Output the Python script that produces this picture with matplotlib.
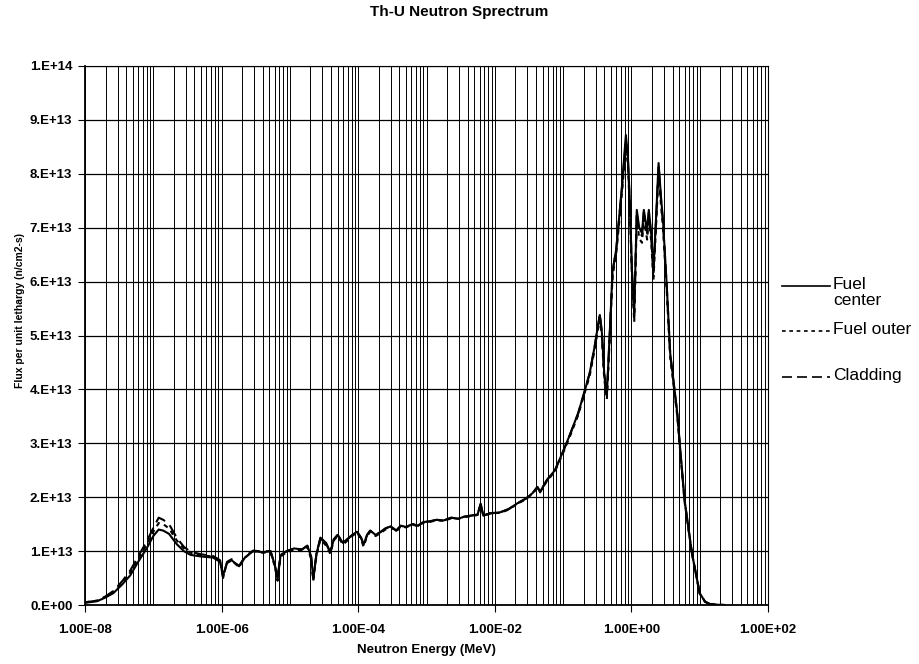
import numpy as np
import matplotlib
matplotlib.use('Agg')
import matplotlib.pyplot as plt
from matplotlib.ticker import LogLocator, FuncFormatter, MultipleLocator, FixedLocator, NullFormatter
from matplotlib.lines import Line2D

plt.rcParams['font.family'] = ['Liberation Sans', 'DejaVu Sans']

# neutron energy grid (MeV)
energy = [
    1.0e-8, 1.5e-8, 2.0e-8, 2.6e-8, 3.5e-8, 4.6e-8, 6.0e-8, 8.0e-8, 1.0e-7, 1.2e-7,
    1.4e-7, 1.7e-7, 2.2e-7, 2.8e-7, 3.5e-7, 5.0e-7, 7.5e-7, 9.5e-7, 1.05e-6, 1.2e-6,
    1.4e-6, 1.8e-6, 2.2e-6, 2.9e-6, 4.0e-6, 5.2e-6, 6.0e-6, 6.6e-6, 7.3e-6, 9.0e-6,
    1.15e-5, 1.5e-5, 1.8e-5, 2.05e-5, 2.2e-5, 2.45e-5, 2.8e-5, 3.4e-5, 3.9e-5, 4.4e-5,
    5.0e-5, 6.0e-5, 7.0e-5, 8.2e-5, 9.6e-5, 1.1e-4, 1.2e-4, 1.35e-4, 1.5e-4, 1.8e-4,
    2.1e-4, 2.5e-4, 3.0e-4, 3.6e-4, 4.2e-4, 5.0e-4, 6.3e-4, 7.5e-4, 9.0e-4, 1.1e-3,
    1.4e-3, 1.8e-3, 2.3e-3, 2.9e-3, 3.6e-3, 4.6e-3, 5.6e-3, 6.2e-3, 6.8e-3, 8.5e-3,
    1.2e-2, 1.6e-2, 2.1e-2, 2.9e-2, 3.6e-2, 4.2e-2, 4.6e-2, 5.8e-2, 7.6e-2, 1.0e-1,
    1.25e-1, 1.66e-1, 2.05e-1, 2.45e-1, 2.9e-1, 3.3e-1, 3.45e-1, 3.7e-1, 4.0e-1, 4.37e-1,
    4.8e-1, 5.3e-1, 6.0e-1, 7.25e-1, 8.3e-1, 8.9e-1, 9.5e-1, 1.02, 1.1, 1.2,
    1.3, 1.43, 1.52, 1.62, 1.7, 1.8, 1.95, 2.1, 2.3, 2.5,
    2.7, 2.9, 3.3, 3.7, 4.7, 5.1, 6.0, 7.7, 10.0, 12.0,
    14.0, 18.0, 23.0,
]

# flux per unit lethargy, in units of 1E+13 n/cm2-s
fuel_center = [
    0.04, 0.07, 0.14, 0.22, 0.38, 0.55, 0.80, 1.05, 1.28, 1.40,
    1.38, 1.32, 1.13, 1.00, 0.93, 0.90, 0.88, 0.80, 0.55, 0.78,
    0.83, 0.72, 0.88, 1.00, 0.98, 1.00, 0.75, 0.48, 0.92, 1.00,
    1.05, 1.03, 1.10, 0.90, 0.48, 0.95, 1.25, 1.15, 0.98, 1.22,
    1.30, 1.15, 1.23, 1.30, 1.36, 1.25, 1.12, 1.30, 1.38, 1.30,
    1.35, 1.42, 1.46, 1.38, 1.47, 1.45, 1.50, 1.47, 1.54, 1.55,
    1.58, 1.57, 1.62, 1.60, 1.64, 1.66, 1.68, 1.88, 1.66, 1.70,
    1.72, 1.78, 1.88, 1.98, 2.08, 2.19, 2.10, 2.32, 2.50, 2.85,
    3.15, 3.56, 3.95, 4.30, 4.80, 5.25, 5.38, 5.05, 4.30, 3.90,
    5.00, 6.20, 6.60, 7.75, 8.72, 8.30, 7.45, 6.20, 5.42, 7.33,
    7.00, 6.90, 7.33, 7.10, 6.96, 7.33, 6.90, 6.20, 7.20, 8.20,
    7.60, 7.14, 5.90, 4.67, 3.56, 3.00, 1.95, 0.96, 0.22, 0.06,
    0.02, 0.005, 0.0,
]

fuel_outer = [
    0.05, 0.08, 0.15, 0.24, 0.41, 0.60, 0.86, 1.12, 1.36, 1.52,
    1.50, 1.42, 1.20, 1.05, 0.97, 0.92, 0.90, 0.82, 0.52, 0.78,
    0.83, 0.70, 0.88, 1.00, 0.97, 0.98, 0.72, 0.45, 0.90, 0.98,
    1.02, 1.00, 1.08, 0.85, 0.45, 0.92, 1.22, 1.10, 0.95, 1.20,
    1.28, 1.12, 1.20, 1.28, 1.35, 1.22, 1.08, 1.28, 1.36, 1.28,
    1.33, 1.40, 1.45, 1.36, 1.46, 1.44, 1.49, 1.46, 1.53, 1.54,
    1.57, 1.56, 1.61, 1.60, 1.63, 1.65, 1.67, 1.85, 1.65, 1.70,
    1.71, 1.77, 1.87, 1.97, 2.07, 2.17, 2.09, 2.30, 2.48, 2.82,
    3.12, 3.52, 3.92, 4.25, 4.74, 5.18, 5.30, 4.98, 4.20, 3.82,
    4.90, 6.10, 6.52, 7.62, 8.52, 8.15, 7.30, 6.05, 5.25, 7.20,
    6.80, 6.72, 7.18, 6.95, 6.78, 7.20, 6.75, 6.02, 7.05, 8.05,
    7.45, 7.00, 5.80, 4.60, 3.50, 2.95, 1.92, 0.95, 0.21, 0.06,
    0.02, 0.005, 0.0,
]

cladding = [
    0.05, 0.08, 0.16, 0.26, 0.44, 0.64, 0.90, 1.18, 1.43, 1.62,
    1.58, 1.50, 1.25, 1.08, 0.99, 0.94, 0.91, 0.83, 0.50, 0.80,
    0.85, 0.72, 0.90, 1.01, 0.99, 1.00, 0.74, 0.50, 0.93, 1.00,
    1.05, 1.03, 1.10, 0.88, 0.50, 0.95, 1.24, 1.13, 0.98, 1.22,
    1.30, 1.15, 1.22, 1.30, 1.36, 1.25, 1.12, 1.30, 1.38, 1.30,
    1.35, 1.42, 1.46, 1.38, 1.47, 1.45, 1.50, 1.47, 1.54, 1.55,
    1.58, 1.57, 1.62, 1.60, 1.64, 1.66, 1.68, 1.87, 1.66, 1.70,
    1.72, 1.78, 1.88, 1.98, 2.08, 2.19, 2.10, 2.32, 2.50, 2.85,
    3.15, 3.55, 3.95, 4.30, 4.80, 5.22, 5.40, 5.05, 4.28, 3.88,
    4.98, 6.18, 6.60, 7.70, 8.62, 8.25, 7.40, 6.15, 5.35, 7.28,
    6.92, 6.85, 7.28, 7.05, 6.90, 7.28, 6.85, 6.12, 7.15, 8.15,
    7.55, 7.10, 5.88, 4.65, 3.55, 2.98, 1.94, 0.96, 0.22, 0.06,
    0.02, 0.005, 0.0,
]

x_ticks = [1e-8, 1e-6, 1e-4, 1e-2, 1e0, 1e2]

fig = plt.figure(figsize=(9.19, 6.64), dpi=100)
ax = fig.add_axes([85 / 919, 59 / 664, 683 / 919, 539 / 664])

scale = 1e13
dotted = (0, (2.2, 2.2))
dashed = (0, (6, 3))
ax.plot(energy, np.array(fuel_center) * scale, color='black', lw=1.5, ls='-', zorder=3)
ax.plot(energy, np.array(fuel_outer) * scale, color='black', lw=1.5, ls=dotted, zorder=3)
ax.plot(energy, np.array(cladding) * scale, color='black', lw=1.5, ls=dashed, zorder=3)

ax.set_xscale('log')
ax.set_xlim(1e-8, 1e2)
ax.set_ylim(0, 1e14)

# assen en rasterlijnen
ax.xaxis.set_major_locator(FixedLocator(x_ticks))
ax.xaxis.set_minor_locator(LogLocator(base=10, subs=np.arange(1, 10), numticks=200))
ax.xaxis.set_major_formatter(FuncFormatter(lambda v, p: f"{v:.2E}"))
ax.xaxis.set_minor_formatter(NullFormatter())
ax.yaxis.set_major_locator(MultipleLocator(1e13))


def y_fmt(v, p):
    if v <= 0:
        return "0.E+00"
    exp = int(np.floor(np.log10(v) + 1e-9))
    mant = v / 10 ** exp
    return f"{mant:.0f}.E+{exp:02d}"


ax.yaxis.set_major_formatter(FuncFormatter(y_fmt))

ax.grid(True, which='both', axis='x', color='black', lw=0.7)
ax.grid(True, which='major', axis='y', color='black', lw=0.9)
ax.tick_params(axis='x', which='minor', length=0)
ax.tick_params(axis='both', which='major', length=5, width=0.8, direction='out',
               labelsize=9.5)
ax.tick_params(axis='x', which='major', pad=9)
ax.tick_params(axis='y', which='major', pad=4)
for lab in ax.get_xticklabels() + ax.get_yticklabels():
    lab.set_fontweight('bold')
for side in ['left', 'bottom']:
    ax.spines[side].set_linewidth(1.3)
for side in ['top', 'right']:
    ax.spines[side].set_linewidth(0.8)

ax.set_xlabel('Neutron Energy (MeV)', fontsize=9.5, fontweight='bold')
ax.xaxis.set_label_coords(0.5, -0.072)
ax.set_ylabel('Flux per unit lethargy (n/cm2-s)', fontsize=7.5, fontweight='bold')
ax.yaxis.set_label_coords(-0.088, 0.547)

fig.text(0.5, 652 / 664, 'Th-U Neutron Sprectrum', ha='center', va='center',
         fontsize=11, fontweight='bold')

# legenda rechts naast de grafiek
legend_items = [
    ('Fuel\ncenter', '-', 286),
    ('Fuel outer', dotted, 331),
    ('Cladding', dashed, 377),
]
for label, style, ypix in legend_items:
    yf = (664 - ypix) / 664
    fig.add_artist(Line2D([782 / 919, 830 / 919], [yf, yf], color='black', lw=1.2,
                          ls=style, transform=fig.transFigure))
    fig.text(833 / 919, yf + 9 / 664, label, ha='left', va='top', fontsize=12.5,
             linespacing=1.05)

fig.savefig('out.png', dpi=100)
